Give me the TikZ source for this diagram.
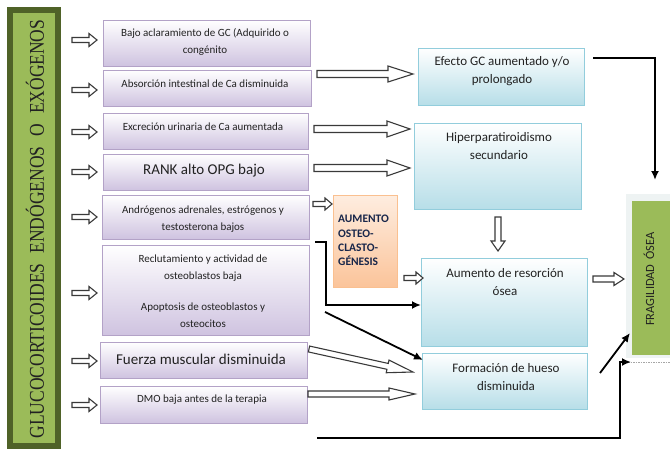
\documentclass[tikz,border=0pt]{standalone}
\usepackage{graphicx}
\usepackage{fontspec}
\setmainfont{Carlito}
\newfontfamily\gluserif{Liberation Serif}
\usetikzlibrary{calc,arrows.meta}
\definecolor{gdark}{HTML}{4F6228}
\definecolor{gfill}{HTML}{9BBB59}
\definecolor{pborder}{HTML}{B3A2C7}
\definecolor{pfill}{HTML}{CFC3E0}
\definecolor{bborder}{HTML}{92CDDC}
\definecolor{bfill}{HTML}{B7DEE8}
\definecolor{oborder}{HTML}{FAC090}
\definecolor{ofill}{HTML}{FBC49A}
\definecolor{otop}{HTML}{FEEDE0}
\definecolor{navy}{HTML}{18264A}
\definecolor{pale}{HTML}{EEF3F3}
\definecolor{txtc}{HTML}{222222}
\definecolor{arrgray}{HTML}{3A3A3A}
% hollow arrow: #1 start, #2 end, #3 shaft half width, #4 head half width, #5 head length
\newcommand\hollowarrow[5]{%
  \draw[hol] let \p1=(#1), \p2=(#2), \n1={atan2(\y2-\y1,\x2-\x1)}, \n2={veclen(\x2-\x1,\y2-\y1)} in
  [shift={(\p1)}, rotate=\n1] (0pt,#3) -- ({\n2-#5},#3) -- ({\n2-#5},#4) -- ({\n2},0pt)
  -- ({\n2-#5},-#4) -- ({\n2-#5},-#3) -- (0pt,-#3) -- cycle;}
\newcommand\bx[6]{\node[#1, minimum width={(#5-#3)*1pt}, minimum height={(#6-#4)*1pt}] (#2) at ({(#3+#5)/2},{(#4+#6)/2}) {};}
\begin{document}
\begin{tikzpicture}[x=1pt,y=-1pt,
  pbox/.style={draw=pborder, line width=0.9pt, top color=white, bottom color=pfill, inner sep=0pt, outer sep=0pt},
  bbox/.style={draw=bborder, line width=0.9pt, top color=white, bottom color=bfill, inner sep=0pt, outer sep=0pt},
  obox/.style={draw=oborder, line width=0.9pt, top color=otop, bottom color=ofill, inner sep=0pt, outer sep=0pt},
  lbl/.style={text=txtc, align=center, inner sep=0pt},
  fsmall/.style={font=\fontsize{11}{17}\selectfont},
  fmid/.style={font=\fontsize{13}{18}\selectfont},
  fbig/.style={font=\fontsize{15}{18}\selectfont},
  blk/.style={line width=1.8pt, draw=black, -{Latex[length=9pt,width=8pt]}},
  hol/.style={draw=arrgray, line width=1.1pt, fill=white, line join=miter},
]
\useasboundingbox (0,0) rectangle (670,452);
\clip (0,0) rectangle (670,452);
\fill[white] (0,0) rectangle (670,452);

% left green column
\node[draw=gdark, line width=6pt, fill=gfill, minimum width=48pt, minimum height=436pt, inner sep=0pt, outer sep=0pt] (glu) at (34,228) {};
\node[rotate=90, text=txtc, inner sep=0pt] (glutxt) at (35,229) {\gluserif\fontsize{17.5}{20}\selectfont\scalebox{1}[1.2]{GLUCOCORTICOIDES\hspace{10pt}ENDÓGENOS\hspace{10pt}O\hspace{10pt}EXÓGENOS}};

% purple boxes
\bx{pbox}{b1}{103}{20}{310}{66}
\bx{pbox}{b2}{103}{70}{311}{106}
\bx{pbox}{b3}{103}{113}{308}{149}
\bx{pbox}{b4}{103}{154}{308}{190}
\bx{pbox}{b5}{102}{195}{309}{239}
\bx{pbox}{b6}{102}{245}{309}{335}
\bx{pbox}{b7}{100}{342}{307}{378}
\bx{pbox}{b8}{100}{386}{307}{423}

\node[lbl, fsmall] (t1) at (205,41.5) {Bajo aclaramiento de GC (Adquirido o\\congénito};
\node[lbl, fsmall] (t2) at (205,84) {Absorción intestinal de Ca disminuida};
\node[lbl, fsmall] (t3) at (203,127) {Excreción urinaria de Ca aumentada};
\node[lbl, fbig] (t4) at (204,171) {RANK alto OPG bajo};
\node[lbl, fsmall] (t5) at (203,219) {Andrógenos adrenales, estrógenos y\\testosterona bajos};
\node[lbl, fsmall] (t6) at (203,291.5) {Reclutamiento y actividad de\\osteoblastos baja\\[14pt]Apoptosis de osteoblastos y\\osteocitos};
\node[lbl, fbig] (t7) at (201,359) {Fuerza muscular disminuida};
\node[lbl, fsmall] (t8) at (202,400) {DMO baja antes de la terapia};

% blue boxes
\bx{bbox}{ef}{418}{48}{584}{105}
\bx{bbox}{hp}{414}{123}{581}{209}
\bx{bbox}{ar}{421}{258}{587}{346}
\bx{bbox}{fh}{422}{353}{587}{409}
\node[lbl, fmid] (tef) at (502,71) {Efecto GC aumentado y/o\\prolongado};
\node[lbl, fmid] (thp) at (499,146) {Hiperparatiroidismo\\secundario};
\node[lbl, fmid] (tar) at (505,282.5) {Aumento de resorción\\ósea};
\node[lbl, fmid] (tfh) at (506,377.5) {Formación de hueso\\disminuida};

% orange box
\bx{obox}{oc}{333}{195}{397}{287}
\node[text=navy, align=left, inner sep=0pt, anchor=west, font=\bfseries\fontsize{11.5}{14.3}\selectfont] (toc) at (338,240.5) {AUMENTO\\OSTEO-\\CLASTO-\\GÉNESIS};

% fragility box
\bx{fill=pale, inner sep=0pt, outer sep=0pt}{fragbg}{626}{194}{680}{358}
\bx{fill=gfill, inner sep=0pt, outer sep=0pt}{frag}{632}{201}{680}{355}
\node[rotate=90, text=txtc, inner sep=0pt, font=\fontsize{12.5}{14}\selectfont] (tfrag) at (649,279) {FRAGILIDAD\hspace{5pt}ÓSEA};
\draw[gray!70, line width=0.8pt, dash pattern=on 1.5pt off 1pt] (628,362) -- (670,362);

% small hollow arrows from the left column
\foreach \yy in {40,90,132,172,217,293,361,405}{
  \hollowarrow{72,\yy}{97,\yy}{2.5pt}{6.5pt}{8pt}
}
% large hollow arrows
\hollowarrow{317,74}{413,74}{3.5pt}{8pt}{25pt}
\hollowarrow{314,129}{410,129}{3.5pt}{8pt}{23pt}
\hollowarrow{314,168}{410,168}{3.5pt}{8pt}{23pt}
\hollowarrow{313,204}{332,204}{2.5pt}{6pt}{7pt}
\hollowarrow{404,278}{423,278}{2.5pt}{6pt}{7pt}
\hollowarrow{498,217}{498,251}{3pt}{7pt}{10pt}
\hollowarrow{593,279}{624,279}{3pt}{6.5pt}{10pt}
\hollowarrow{309,349}{413,372}{3pt}{6.5pt}{26pt}
\hollowarrow{308,394}{415,394}{3pt}{6pt}{26pt}

% black arrows
\coordinate (k1) at (593,58);
\coordinate (k2) at (655,180);
\draw[blk] (k1) -| (k2);
\coordinate (k3) at (315,242);
\coordinate (k4) at (326,305);
\draw[blk] (k3) -| (k4) -- (ar.west |- k4);
\coordinate (k5) at (325,312);
\coordinate (k6) at (423,360);
\draw[blk] (k5) -- (k6);
\coordinate (k7) at (600,373);
\coordinate (k8) at (630,333);
\draw[blk] (k7) -- (k8);
\coordinate (k9) at (317,438);
\coordinate (k10) at (620,362);
\coordinate (k11) at (631,362);
\draw[blk] (k9) -| (k10) -- (k11);
\end{tikzpicture}
\end{document}
